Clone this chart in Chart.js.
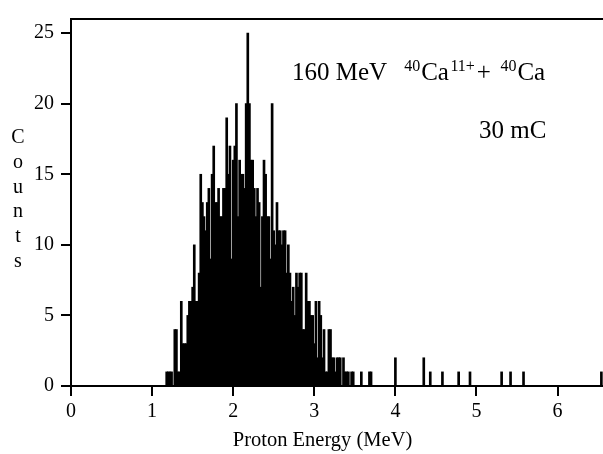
<!DOCTYPE html>
<html><head><meta charset="utf-8">
<script src="https://cdn.jsdelivr.net/npm/chart.js@4/dist/chart.umd.min.js"></script>
<style>html,body{margin:0;padding:0;background:#fff}#wrap{width:603px;height:454px;position:relative}</style>
</head><body><div id="wrap"><canvas id="c" width="603" height="454"></canvas></div>
<script>
// ---- data ----
const binStart = 1.18;      // MeV, centre of first histogram bin
const binWidth = 0.02;      // MeV
const mainCounts = [
  1,1,1,1,0,   4,4,1,1,6,   3,3,3,5,6,   6,7,10,6,6,  8,15,13,12,11,
  13,14,9,15,17, 13,13,14,12,12, 14,14,19,15,17, 9,16,17,20,12, 16,15,15,14,20,
  25,20,16,16,14, 12,14,13,7,12, 16,15,12,12,9, 20,11,10,13,11, 11,10,11,11,8,
  10,8,6,7,5,  8,7,8,8,4,   4,8,6,6,5,   5,3,6,2,6,   5,2,4,1,1,
  4,4,2,2,1,   2,2,2,0,2,   1,1,1,0,1,   1,0,0,0,0,   1,0,0,0,0,
  1,1
];
const tailEnergies = [4.00, 4.35, 4.43, 4.58, 4.78, 4.92, 5.31, 5.42, 5.58, 6.54];
const tailCounts   = [2, 2, 1, 1, 1, 1, 1, 1, 1, 1];
const xTicks = [0, 1, 2, 3, 4, 5, 6];
const yTicks = [0, 5, 10, 15, 20, 25];
const xTitle = 'Proton Energy (MeV)';
const yTitle = 'Counts';

// ---- build points ----
const points = mainCounts.map((c, i) => ({x: +(binStart + i * binWidth).toFixed(2), y: c}))
  .concat(tailEnergies.map((e, i) => ({x: e, y: tailCounts[i]})));

const FONT = 'Liberation Serif, Times New Roman, serif';

const textPlugin = {
  id: 'texts',
  afterDraw(chart) {
    const ctx = chart.ctx;
    ctx.save();
    ctx.fillStyle = '#000';
    // x-axis title
    ctx.font = '20.5px ' + FONT;
    ctx.textAlign = 'center';
    ctx.textBaseline = 'alphabetic';
    ctx.fillText(xTitle, 322.5, 446);
    // stacked y-axis title
    ctx.font = '20px ' + FONT;
    [...yTitle].forEach((ch, i) => ctx.fillText(ch, 18, 143 + i * 24.8));
    // annotation line 1
    ctx.textAlign = 'left';
    const big = '25px ' + FONT, small = '16px ' + FONT;
    const parts = [
      ['160 MeV', big, 0, 0],
      ['40', small, -9, 17],
      ['Ca', big, 0, 1],
      ['11+', small, -9, 1.5],
      ['+', big, 0, 2],
      ['40', small, -9, 9.5],
      ['Ca', big, 0, 1]
    ];
    let x = 292;
    parts.forEach(([t, f, dy, gap]) => {
      x += gap;
      ctx.font = f;
      ctx.fillText(t, x, 80 + dy);
      x += ctx.measureText(t).width;
    });
    // annotation line 2
    ctx.font = big;
    ctx.fillText('30 mC', 479, 138);
    ctx.restore();
  }
};

const tickFont = {family: FONT, size: 20};
new Chart(document.getElementById('c'), {
  type: 'bar',
  data: {
    datasets: [{
      data: points,
      backgroundColor: '#000',
      borderWidth: 0,
      barThickness: 2
    }]
  },
  options: {
    responsive: false,
    animation: false,
    devicePixelRatio: 1,
    layout: {padding: 0},
    plugins: {legend: {display: false}, tooltip: {enabled: false}},
    scales: {
      x: {
        type: 'linear', position: 'bottom', min: 0, max: 6.56, offset: false,
        afterBuildTicks: s => { s.ticks = xTicks.map(v => ({value: v})); },
        afterFit: s => { s.height = 68; },
        ticks: {font: tickFont, color: '#000', padding: 4, maxRotation: 0, autoSkip: false},
        grid: {display: true, offset: false, drawOnChartArea: false, drawTicks: true, tickLength: 10, color: '#000', lineWidth: 2},
        border: {display: true, color: '#000', width: 2}
      },
      xTop: {
        type: 'linear', position: 'top', min: 0, max: 6.56, offset: false,
        afterFit: s => { s.height = 16; },
        ticks: {display: false},
        grid: {display: false, offset: false},
        border: {display: true, color: '#000', width: 2}
      },
      y: {
        type: 'linear', position: 'left', min: 0, max: 26,
        afterBuildTicks: s => { s.ticks = yTicks.map(v => ({value: v})); },
        afterFit: s => { s.width = 71; },
        ticks: {font: tickFont, color: '#000', padding: 7},
        grid: {display: true, drawOnChartArea: false, drawTicks: true, tickLength: 10, color: '#000', lineWidth: 2},
        border: {display: true, color: '#000', width: 2}
      }
    }
  },
  plugins: [textPlugin]
});
</script>
</body></html>
